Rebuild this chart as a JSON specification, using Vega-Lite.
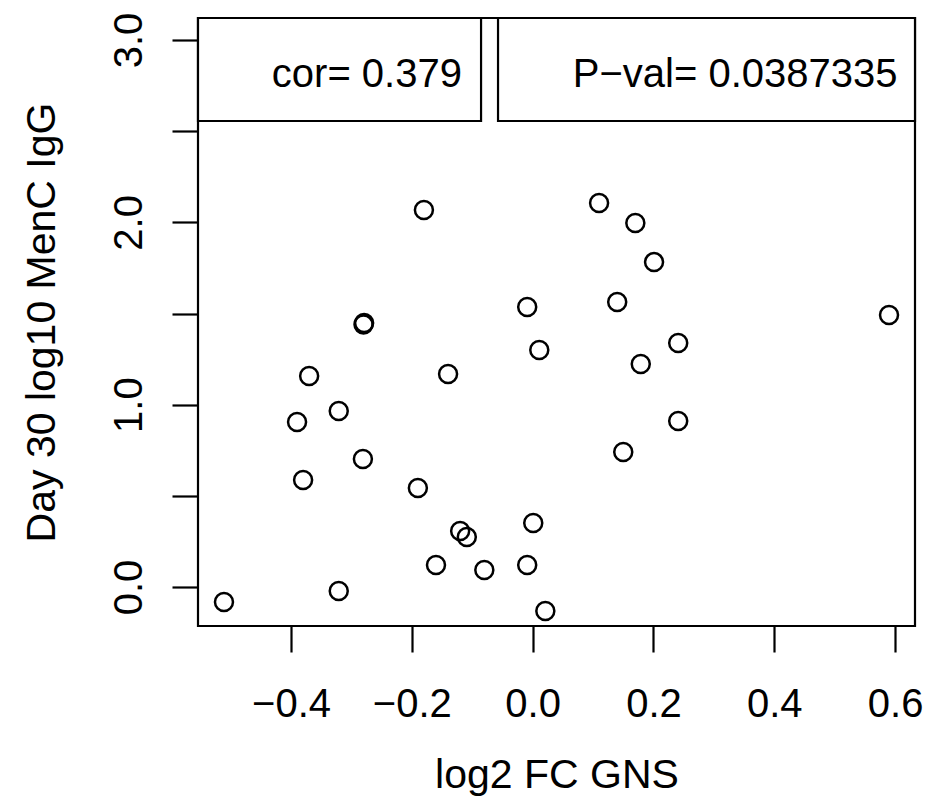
{
  "$schema": "https://vega.github.io/schema/vega-lite/v6.json",
  "width": 717,
  "height": 608,
  "autosize": {"type": "none"},
  "padding": {"left": 198, "top": 18, "right": 10, "bottom": 174},
  "background": "white",
  "config": {
    "view": {"stroke": "black", "strokeWidth": 2.2},
    "font": "Liberation Sans",
    "axis": {
      "grid": false,
      "domain": false,
      "tickColor": "black",
      "tickWidth": 2.2,
      "tickSize": 26,
      "labelColor": "black",
      "labelFontSize": 40,
      "labelFlush": false,
      "labelOverlap": false,
      "titleColor": "black",
      "titleFontSize": 41,
      "titleFontWeight": "normal"
    }
  },
  "datasets": {
    "points": [
      {"x": -0.511, "y": -0.082},
      {"x": -0.321, "y": -0.022},
      {"x": -0.390, "y": 0.905},
      {"x": -0.380, "y": 0.587},
      {"x": -0.370, "y": 1.157},
      {"x": -0.321, "y": 0.965},
      {"x": -0.281, "y": 0.702},
      {"x": -0.279, "y": 1.448},
      {"x": -0.280, "y": 1.440},
      {"x": -0.180, "y": 2.068},
      {"x": -0.190, "y": 0.543},
      {"x": -0.140, "y": 1.168},
      {"x": -0.160, "y": 0.121},
      {"x": -0.120, "y": 0.307},
      {"x": -0.109, "y": 0.274},
      {"x": -0.080, "y": 0.093},
      {"x": -0.009, "y": 1.536},
      {"x": 0.011, "y": 1.300},
      {"x": 0.001, "y": 0.351},
      {"x": -0.009, "y": 0.121},
      {"x": 0.021, "y": -0.132},
      {"x": 0.110, "y": 2.106},
      {"x": 0.170, "y": 1.996},
      {"x": 0.201, "y": 1.782},
      {"x": 0.140, "y": 1.563},
      {"x": 0.179, "y": 1.223},
      {"x": 0.241, "y": 1.338},
      {"x": 0.150, "y": 0.740},
      {"x": 0.241, "y": 0.910},
      {"x": 0.590, "y": 1.492}
    ],
    "boxes": [
      {"x": -0.554, "x2": -0.0854, "y": 2.556, "y2": 3.121},
      {"x": -0.0573, "x2": 0.633, "y": 2.556, "y2": 3.121}
    ],
    "labels": [
      {"x": -0.117, "y": 2.81, "label": "cor= 0.379"},
      {"x": 0.604, "y": 2.81, "label": "P−val= 0.0387335"}
    ]
  },
  "encoding": {
    "x": {
      "field": "x",
      "type": "quantitative",
      "scale": {"domain": [-0.554, 0.633], "nice": false, "zero": false},
      "axis": {
        "values": [-0.4, -0.2, 0, 0.2, 0.4, 0.6],
        "format": ".1f",
        "labelPadding": 32,
        "title": "log2 FC GNS",
        "titlePadding": 31
      }
    },
    "y": {
      "field": "y",
      "type": "quantitative",
      "scale": {"domain": [-0.214, 3.121], "nice": false, "zero": false},
      "axis": {
        "values": [0, 0.5, 1, 1.5, 2, 2.5, 3],
        "labelExpr": "datum.value % 1 === 0 ? format(datum.value, '.1f') : ''",
        "labelAngle": 270,
        "labelAlign": "center",
        "labelBaseline": "bottom",
        "labelPadding": 23,
        "title": "Day 30 log10 MenC IgG",
        "titlePadding": 46
      }
    }
  },
  "layer": [
    {
      "data": {"name": "points"},
      "mark": {"type": "point", "shape": "circle", "filled": false, "stroke": "black", "strokeWidth": 2.5, "size": 324, "opacity": 1}
    },
    {
      "data": {"name": "boxes"},
      "mark": {"type": "rect", "fill": "white", "stroke": "black", "strokeWidth": 2.2},
      "encoding": {
        "x2": {"field": "x2"},
        "y2": {"field": "y2"}
      }
    },
    {
      "data": {"name": "labels"},
      "mark": {"type": "text", "align": "right", "baseline": "middle", "fontSize": 40, "color": "black"},
      "encoding": {
        "text": {"field": "label", "type": "nominal"}
      }
    }
  ]
}
